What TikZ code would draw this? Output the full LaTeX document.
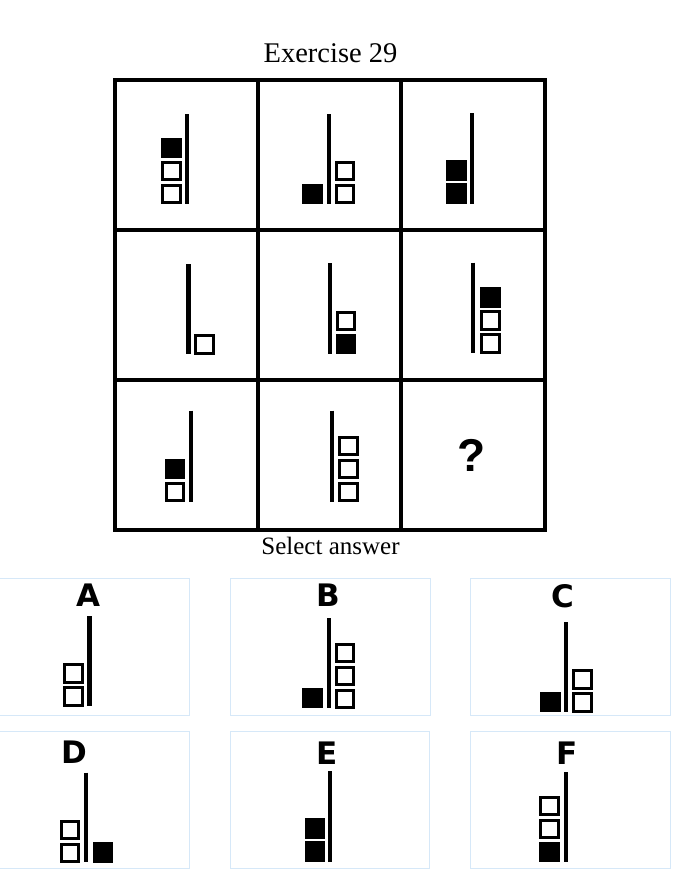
\documentclass[tikz,border=0pt]{standalone}
\usepackage{fontspec}
\setmainfont{Liberation Serif}
\newfontfamily\lettfont{DejaVu Sans}
\newfontfamily\qfont{Liberation Sans}
\definecolor{panelblue}{HTML}{D6E8F8}
\newcommand{\bsz}{20.5}
\newcommand{\fb}[2]{\fill (#1,#2) rectangle ++(\bsz,\bsz);}
\newcommand{\hb}[2]{\draw[hollow] (#1+1.5,#2+1.5) rectangle ++(\bsz-3,\bsz-3);}
\newcommand{\br}[3]{\draw[barline] (#1,#2) -- (#1,#3);}
\begin{document}
\begin{tikzpicture}[x=1pt,y=-1pt,
  gridline/.style={line width=4pt,black},
  barline/.style={line width=4.3pt,black},
  hollow/.style={line width=3pt,black,fill=white},
  panel/.style={draw=panelblue,line width=1pt},
  letter/.style={font=\lettfont\bfseries\fontsize{31}{31}\selectfont,inner sep=0pt},
  title/.style={font=\fontsize{28.5}{28.5}\selectfont,inner sep=0pt,anchor=base}]
\useasboundingbox[fill=white] (0,0) rectangle (686,881);
% title
\node[title] (title) at (330.5,62) {Exercise 29};
% grid
\draw[gridline] (115,80) rectangle (545,529.5);
\draw[gridline] (258,80) -- (258,529.5);
\draw[gridline] (401,80) -- (401,529.5);
\draw[gridline] (115,230) -- (545,230);
\draw[gridline] (115,380) -- (545,380);
% cell 1
\br{187.3}{114}{204.3}
\hb{161}{183.8}\hb{161}{160.8}\fb{161}{137.8}
% cell 2
\br{329}{114}{204}
\fb{302}{183.8}\hb{334.5}{183.8}\hb{334.5}{160.8}
% cell 3
\br{472.2}{113}{203.7}
\fb{446.3}{183.2}\fb{446.3}{160.2}
% cell 4
\br{188.5}{264}{354.3}
\hb{194.3}{334.3}
% cell 5
\br{330.2}{263.3}{354}
\fb{335.7}{333.8}\hb{335.7}{310.8}
% cell 6
\br{473.2}{262.7}{353.3}
\hb{480.3}{333.3}\hb{480.3}{310.3}\fb{480.3}{287.3}
% cell 7
\br{190.8}{410.7}{501.7}
\hb{164.5}{481.7}\fb{164.5}{458.7}
% cell 8
\br{331.8}{410.7}{501.7}
\hb{338}{481.5}\hb{338}{458.5}\hb{338}{435.5}
% cell 9
\node[font=\qfont\bfseries\fontsize{46}{46}\selectfont,inner sep=0pt] (q) at (471.7,455) {?};
% select answer
\node[title,font=\fontsize{25}{25}\selectfont] (sel) at (330.5,554) {Select answer};
% panels
\draw[panel] (-5,578.3) rectangle (189.7,715.7);
\draw[panel] (230,578.3) rectangle (430,715.7);
\draw[panel] (470,578.3) rectangle (670.7,715.7);
\draw[panel] (-5,731.5) rectangle (189.7,868.3);
\draw[panel] (230,731) rectangle (429.3,868.3);
\draw[panel] (470,731) rectangle (670.7,868.3);
% A
\node[letter] (la) at (88,595) {A};
\br{89.5}{616}{706}
\hb{63.3}{686.3}\hb{63.3}{663.3}
% B
\node[letter] (lb) at (328.3,595) {B};
\br{329.3}{618.3}{708.3}
\fb{302}{687.8}\hb{334.8}{688.5}\hb{334.8}{665.5}\hb{334.8}{642.5}
% C
\node[letter] (lc) at (563.3,596) {C};
\br{566.3}{622.3}{712.3}
\fb{540}{691.8}\hb{572}{692}\hb{572}{669}
% D
\node[letter] (ld) at (74,751.7) {D};
\br{86.2}{772.7}{862.3}
\hb{59.5}{842.8}\hb{59.5}{819.8}\fb{92.5}{842.2}
% E
\node[letter] (le) at (327.2,753.3) {E};
\br{330.3}{771}{861.7}
\fb{304.5}{841.2}\fb{304.5}{818.2}
% F
\node[letter] (lf) at (566.7,753.3) {F};
\br{565.7}{772.3}{862.3}
\fb{539.3}{841.8}\hb{539.3}{818.8}\hb{539.3}{795.8}
\end{tikzpicture}
\end{document}
